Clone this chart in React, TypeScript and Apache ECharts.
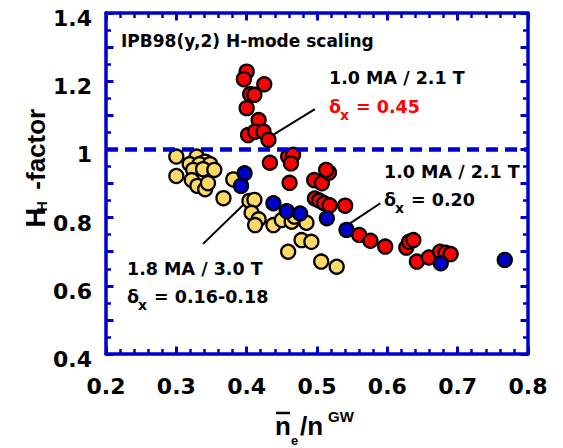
import React, { useEffect, useRef } from 'react';
import * as echarts from 'echarts';

const BLUE = '#0000cc';
const RED = '#ff0000';
const YELLOW = '#ffd966';

// delta_x = 0.45, 1.0 MA / 2.1 T
const redPoints: number[][] = [
  [0.400, 1.228], [0.396, 1.206], [0.425, 1.191], [0.405, 1.162], [0.411, 1.160],
  [0.400, 1.121], [0.417, 1.086], [0.402, 1.042], [0.412, 1.052], [0.424, 1.052],
  [0.431, 1.028],
  [0.433, 0.961], [0.459, 0.979], [0.466, 0.984], [0.463, 0.959], [0.461, 0.902],
  [0.496, 0.910], [0.507, 0.901], [0.517, 0.932], [0.513, 0.940],
  [0.497, 0.856], [0.503, 0.850], [0.510, 0.842], [0.518, 0.836], [0.540, 0.835],
  [0.560, 0.749], [0.576, 0.732], [0.597, 0.715], [0.627, 0.712], [0.631, 0.729],
  [0.637, 0.734], [0.642, 0.671], [0.659, 0.683], [0.675, 0.700], [0.683, 0.697],
  [0.690, 0.693],
];

// delta_x = 0.20, 1.0 MA / 2.1 T
const bluePoints: number[][] = [
  [0.397, 0.930], [0.392, 0.893], [0.438, 0.842], [0.457, 0.819], [0.476, 0.812],
  [0.514, 0.798], [0.542, 0.764], [0.676, 0.666], [0.767, 0.676],
];

// delta_x = 0.16-0.18, 1.8 MA / 3.0 T
const yellowPoints: number[][] = [
  [0.300, 0.979], [0.329, 0.979], [0.341, 0.964], [0.319, 0.957], [0.333, 0.957],
  [0.348, 0.957], [0.324, 0.940], [0.338, 0.942], [0.354, 0.940], [0.300, 0.922],
  [0.322, 0.910], [0.330, 0.893], [0.341, 0.883], [0.345, 0.901], [0.367, 0.857],
  [0.381, 0.912], [0.404, 0.849], [0.411, 0.852], [0.407, 0.814], [0.417, 0.795],
  [0.412, 0.778], [0.438, 0.778], [0.450, 0.793], [0.464, 0.788], [0.468, 0.803],
  [0.485, 0.785], [0.478, 0.734], [0.492, 0.729], [0.459, 0.700], [0.506, 0.671],
  [0.528, 0.656],
];

// annotation leader lines (data coordinates)
const leaderRed: number[][] = [[0.497, 1.118], [0.437, 1.042]];
const leaderBlue: number[][] = [[0.590, 0.842], [0.547, 0.783]];
const leaderYellow: number[][] = [[0.395, 0.837], [0.338, 0.723]];
const referenceLine: number[][] = [[0.2, 1.0], [0.8, 1.0]];

const X_MIN = 0.2, X_MAX = 0.8, X_INTERVAL = 0.1;
const Y_MIN = 0.4, Y_MAX = 1.4, Y_INTERVAL = 0.1;

const ANNO_FONT = 'DejaVu Sans';
const TITLE_FONT = 'Liberation Sans';

function txt(text: string, x: number, baseline: number, size: number, fill = '#000', family = ANNO_FONT, rotation = 0) {
  return {
    type: 'text',
    x,
    y: baseline - 0.35 * size,
    rotation,
    silent: true,
    style: {
      text,
      fill,
      fontSize: size,
      fontWeight: 'bold',
      fontFamily: family,
      textAlign: 'left',
      textVerticalAlign: 'middle',
      align: 'left',
      verticalAlign: 'middle',
    },
  };
}

function deltaLabel(value: string, left: number, baseline: number, fill: string) {
  return [
    txt('δ', left, baseline, 17.5, fill),
    txt('x', left + 11, baseline + 7, 14, fill),
    txt('= ' + value, left + 27, baseline, 17.5, fill),
  ];
}

function axisBase(min: number, max: number, interval: number, minorSplit: number) {
  return {
    type: 'value',
    min,
    max,
    interval,
    axisLine: { show: true, onZero: false, lineStyle: { color: BLUE, width: 3.5 } },
    axisTick: { show: true, inside: true, length: 7.5, lineStyle: { color: BLUE, width: 3 } },
    minorTick: { show: true, splitNumber: minorSplit, length: 5, lineStyle: { color: BLUE, width: 2.5 } },
    splitLine: { show: false },
    minorSplitLine: { show: false },
  };
}

export default function App() {
  const ref = useRef<HTMLDivElement>(null);

  useEffect(() => {
    if (!ref.current) return;
    const chart = echarts.init(ref.current, undefined, { renderer: 'svg' });

    const scatter = (data: number[][], color: string) => ({
      type: 'scatter',
      data,
      symbol: 'circle',
      symbolSize: 14,
      itemStyle: { color, borderColor: '#000', borderWidth: 2.3, opacity: 1 },
      silent: true,
    });
    const leader = (data: number[][]) => ({
      type: 'line',
      data,
      symbol: 'none',
      lineStyle: { color: '#000', width: 2 },
      silent: true,
    });

    chart.setOption({
      animation: false,
      grid: { left: 106, top: 13, width: 422, height: 341, containLabel: false },
      xAxis: [
        {
          ...axisBase(X_MIN, X_MAX, X_INTERVAL, 5),
          position: 'bottom',
          axisLabel: {
            show: true,
            margin: 21,
            fontSize: 22,
            fontWeight: 'bold',
            fontFamily: ANNO_FONT,
            color: '#000',
            formatter: (v: number) => v.toFixed(1),
          },
        },
        {
          ...axisBase(X_MIN, X_MAX, X_INTERVAL, 5),
          position: 'top',
          axisLabel: { show: false },
        },
      ],
      yAxis: [
        {
          ...axisBase(Y_MIN, Y_MAX, Y_INTERVAL, 2),
          position: 'left',
          axisLabel: {
            show: true,
            margin: 14,
            fontSize: 22,
            fontWeight: 'bold',
            fontFamily: ANNO_FONT,
            color: '#000',
            verticalAlign: 'top',
            lineHeight: 11,
            formatter: (v: number) => {
              const r = Math.round(v * 10);
              if (r % 2 !== 0) return '';
              return r === 10 ? '1' : (r / 10).toFixed(1);
            },
          },
        },
        {
          ...axisBase(Y_MIN, Y_MAX, Y_INTERVAL, 2),
          position: 'right',
          axisLabel: { show: false },
        },
      ],
      series: [
        {
          type: 'line',
          data: referenceLine,
          symbol: 'none',
          lineStyle: { color: BLUE, width: 4.5, type: [12, 7] },
          silent: true,
        },
        leader(leaderRed),
        leader(leaderBlue),
        leader(leaderYellow),
        scatter(yellowPoints, YELLOW),
        scatter(redPoints, RED),
        scatter(bluePoints, BLUE),
      ],
      graphic: [
        txt('IPB98(y,2) H-mode scaling', 121, 46.7, 17),
        txt('1.0 MA / 2.1 T', 329, 84, 17.5),
        ...deltaLabel('0.45', 329, 113.3, RED),
        txt('1.0 MA / 2.1 T', 384, 178.3, 17.5),
        ...deltaLabel('0.20', 384, 206, '#000'),
        txt('1.8 MA / 3.0 T', 127, 275, 17.5),
        ...deltaLabel('0.16-0.18', 127, 302.7, '#000'),
        // y-axis title (rotated)
        txt('H', 36, 237, 27, '#000', TITLE_FONT, Math.PI / 2),
        txt('H', 42, 216.5, 14, '#000', TITLE_FONT, Math.PI / 2),
        txt(' -factor', 36, 206, 26, '#000', TITLE_FONT, Math.PI / 2),
        // x-axis title
        txt('n', 275, 435, 26, '#000', TITLE_FONT),
        {
          type: 'line',
          silent: true,
          shape: { x1: 276, y1: 413, x2: 290, y2: 413 },
          style: { stroke: '#000', lineWidth: 2.5 },
        },
        txt('e', 291, 445, 13, '#000', TITLE_FONT),
        txt('/n', 300, 435, 26, '#000', TITLE_FONT),
        txt('GW', 328, 422, 15, '#000', TITLE_FONT),
      ],
    });

    return () => chart.dispose();
  }, []);

  return (
    <div
      ref={ref}
      style={{ position: 'fixed', left: 0, top: 0, width: 563, height: 448, background: '#fff' }}
    />
  );
}
